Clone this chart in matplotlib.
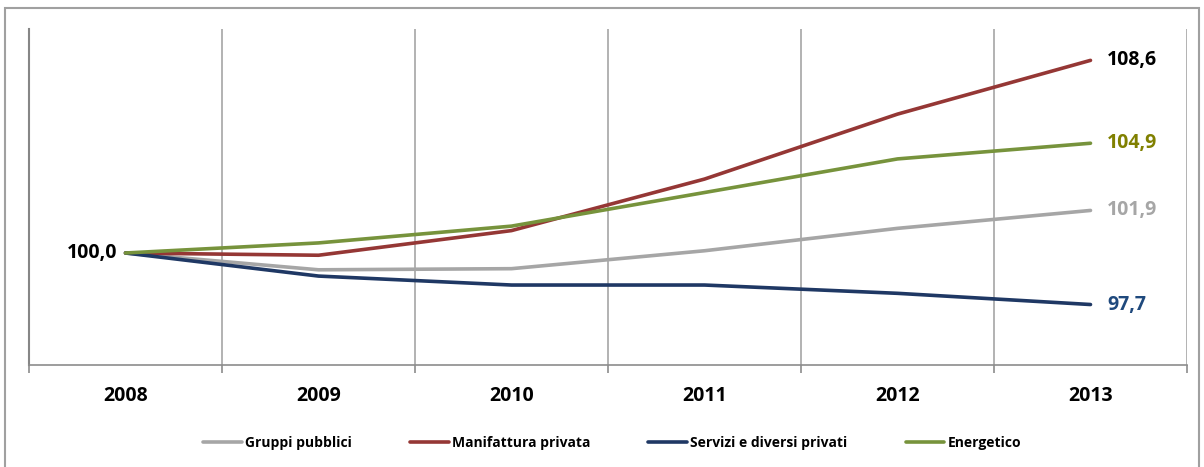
import matplotlib.pyplot as plt
from matplotlib.patches import Rectangle

plt.rcParams['font.family'] = ['Open Sans', 'DejaVu Sans']

years = ['2008', '2009', '2010', '2011', '2012', '2013']
gruppi_pubblici = [100.0, 99.25, 99.3, 100.1, 101.1, 101.9]
manifattura = [100.0, 99.9, 101.0, 103.3, 106.2, 108.6]
servizi = [100.0, 98.97, 98.57, 98.57, 98.2, 97.7]
energetico = [100.0, 100.45, 101.2, 102.7, 104.2, 104.9]

series = [
    ('Gruppi pubblici', gruppi_pubblici, '#A6A6A6', '#A6A6A6'),
    ('Manifattura privata', manifattura, '#953735', '#000000'),
    ('Servizi e diversi privati', servizi, '#1F3864', '#1F497D'),
    ('Energetico', energetico, '#77933C', '#808000'),
]

fig = plt.figure(figsize=(12.04, 4.67), dpi=100)
# outer chart frame
fig.patches.append(Rectangle((5 / 1204, -0.05), 1194 / 1204, 1.05 - 8 / 467,
                             transform=fig.transFigure, fill=False,
                             edgecolor='#A0A0A0', linewidth=1.5))

ax = fig.add_axes([29 / 1204, 102 / 467, 1158 / 1204, 336 / 467])
x = list(range(len(years)))

for name, vals, col, lcol in series:
    ax.plot(x, vals, color=col, linewidth=2.6, label=name, solid_capstyle='round')
    ax.text(x[-1] + 0.085, vals[-1], f'{vals[-1]:.1f}'.replace('.', ','),
            color=lcol, fontsize=14, fontweight='bold', va='center', ha='left')

ax.text(x[0] - 0.04, 100.0, '100,0', color='black', fontsize=14,
        fontweight='bold', va='center', ha='right')

ax.set_xlim(-0.5, len(years) - 0.5)
ax.set_ylim(95, 110)
ax.set_yticks([])
ax.set_xticks(x)
ax.set_xticklabels(years, fontsize=14, fontweight='bold')
ax.set_xticks([i - 0.5 for i in range(len(years) + 1)], minor=True)
ax.tick_params(axis='x', which='major', length=0, pad=15)
ax.tick_params(axis='x', which='minor', length=6, color='#8C8C8C', width=1.2)
ax.grid(axis='x', which='minor', color='#A6A6A6', linewidth=1.2)

for s in ['top', 'right']:
    ax.spines[s].set_visible(False)
ax.spines['left'].set_color('#868686')
ax.spines['left'].set_linewidth(1.5)
ax.spines['bottom'].set_color('#8C8C8C')
ax.spines['bottom'].set_linewidth(1.2)

fig.legend(loc='center', bbox_to_anchor=(612 / 1204, 1 - 443 / 467), ncol=4,
           frameon=False, prop={'size': 10, 'weight': 'bold'},
           handlelength=2.8, handletextpad=0.2, columnspacing=4.2)

fig.savefig('out.png', dpi=100)
